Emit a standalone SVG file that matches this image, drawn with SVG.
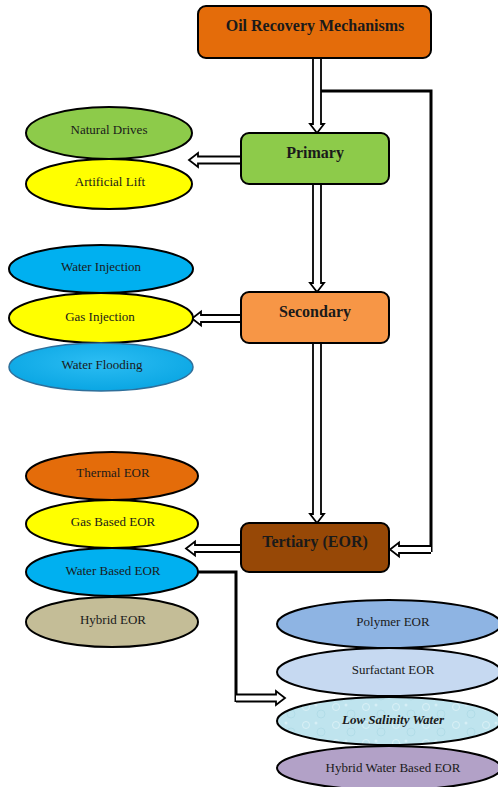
<svg xmlns="http://www.w3.org/2000/svg" width="498" height="787" viewBox="0 0 498 787">
<style>
.box{stroke:#000;stroke-width:2}
.ell{stroke:#000;stroke-width:2}
text{font-family:'Liberation Serif','Times New Roman','DejaVu Serif',serif;fill:#1a1a1a;text-anchor:middle}
.bt{font-weight:bold;font-size:16px}
.et{font-size:13px}
.arr{fill:#fff;stroke:#000;stroke-width:1.8;stroke-linejoin:miter}
.ln{fill:none;stroke:#000;stroke-width:3}
</style>
<defs>
<pattern id="drops" width="30" height="18" patternUnits="userSpaceOnUse">
<rect width="30" height="18" fill="#bfe4ee"/>
<circle cx="6" cy="5" r="3.5" fill="none" stroke="#dff3f8" stroke-width="0.8"/>
<circle cx="21" cy="12" r="4" fill="none" stroke="#a8d6e2" stroke-width="0.6"/>
<circle cx="16" cy="3" r="1.5" fill="#d6eff6"/>
</pattern>
<radialGradient id="wf" cx="0.5" cy="0.4" r="0.6">
<stop offset="0" stop-color="#2cbdf3"/>
<stop offset="1" stop-color="#0aa6e3"/>
</radialGradient>
</defs>
<g id="connectors">
<path class="arr" d="M313,57 V124 H310 L317,133 L324,124 H321 V57"/>
<path class="arr" d="M313,183 V283 H310 L317,292 L324,283 H321 V183"/>
<path class="arr" d="M313,342 V514 H310 L317,523 L324,514 H321 V342"/>
<path class="arr" d="M242,156.5 H198 V153 L189,160 L198,167 V163.5 H242"/>
<path class="arr" d="M242,315 H201 V311.5 L192,318.5 L201,325.5 V322 H242"/>
<path class="arr" d="M242,545 H195 V541.5 L186,548.5 L195,555.5 V552 H242"/>
<path class="ln" d="M321,91 H431 V552"/>
<path class="arr" d="M431,546 H399 V542.5 L390,549.5 L399,556.5 V553 H431"/>
<path class="ln" d="M198,572 H236 V702"/>
<path class="arr" d="M236,694.5 H276 V691 L285,698 L276,705 V701.5 H236"/>
</g>
<g id="oil-recovery">
<rect class="box" x="198" y="6" width="233" height="52" rx="8" fill="#e46c0a"/>
<text class="bt" x="315" y="31">Oil Recovery Mechanisms</text>
</g>
<g id="primary">
<rect class="box" x="241" y="133" width="148" height="51" rx="8" fill="#8dcb4a"/>
<text class="bt" x="315" y="158">Primary</text>
</g>
<g id="secondary">
<rect class="box" x="241" y="292" width="148" height="51" rx="8" fill="#f79646"/>
<text class="bt" x="315" y="317">Secondary</text>
</g>
<g id="tertiary">
<rect class="box" x="241" y="523" width="148" height="49" rx="8" fill="#974806"/>
<text class="bt" x="315" y="547">Tertiary (EOR)</text>
</g>
<g id="natural-drives">
<ellipse class="ell" cx="109" cy="133" rx="83" ry="26" fill="#8dcb4a"/>
<text class="et" x="109" y="134">Natural Drives</text>
</g>
<g id="artificial-lift">
<ellipse class="ell" cx="109" cy="184" rx="83" ry="25" fill="#ffff00"/>
<text class="et" x="110" y="186">Artificial Lift</text>
</g>
<g id="water-injection">
<ellipse class="ell" cx="101" cy="269" rx="92" ry="24" fill="#00b0f0"/>
<text class="et" x="101" y="271">Water Injection</text>
</g>
<g id="gas-injection">
<ellipse class="ell" cx="101" cy="318" rx="92" ry="25" fill="#ffff00"/>
<text class="et" x="100" y="321">Gas Injection</text>
</g>
<g id="water-flooding">
<ellipse cx="101" cy="367" rx="92" ry="24" fill="url(#wf)" stroke="#2f6f9a" stroke-width="1.5"/>
<text class="et" x="102" y="369">Water Flooding</text>
</g>
<g id="thermal-eor">
<ellipse class="ell" cx="112" cy="476" rx="86" ry="24" fill="#e46c0a"/>
<text class="et" x="113" y="477">Thermal EOR</text>
</g>
<g id="gas-based-eor">
<ellipse class="ell" cx="112" cy="524" rx="86" ry="24" fill="#ffff00"/>
<text class="et" x="113" y="526">Gas Based EOR</text>
</g>
<g id="water-based-eor">
<ellipse class="ell" cx="112" cy="572" rx="86" ry="24" fill="#00b0f0"/>
<text class="et" x="113" y="575">Water Based EOR</text>
</g>
<g id="hybrid-eor">
<ellipse class="ell" cx="112" cy="622" rx="86" ry="25" fill="#c4bd97"/>
<text class="et" x="113" y="624">Hybrid EOR</text>
</g>
<g id="polymer-eor">
<ellipse class="ell" cx="389" cy="624" rx="112" ry="24" fill="#8eb4e3"/>
<text class="et" x="393" y="626">Polymer EOR</text>
</g>
<g id="surfactant-eor">
<ellipse class="ell" cx="389" cy="672" rx="112" ry="24" fill="#c6d9f1"/>
<text class="et" x="393" y="674">Surfactant EOR</text>
</g>
<g id="low-salinity-water">
<ellipse class="ell" cx="389" cy="721" rx="112" ry="24" fill="url(#drops)"/>
<text class="et" x="393" y="724" font-style="italic" font-weight="bold">Low Salinity Water</text>
</g>
<g id="hybrid-water-based-eor">
<ellipse class="ell" cx="389" cy="768" rx="112" ry="22" fill="#b2a1c7"/>
<text class="et" x="393" y="772">Hybrid Water Based EOR</text>
</g>
</svg>
